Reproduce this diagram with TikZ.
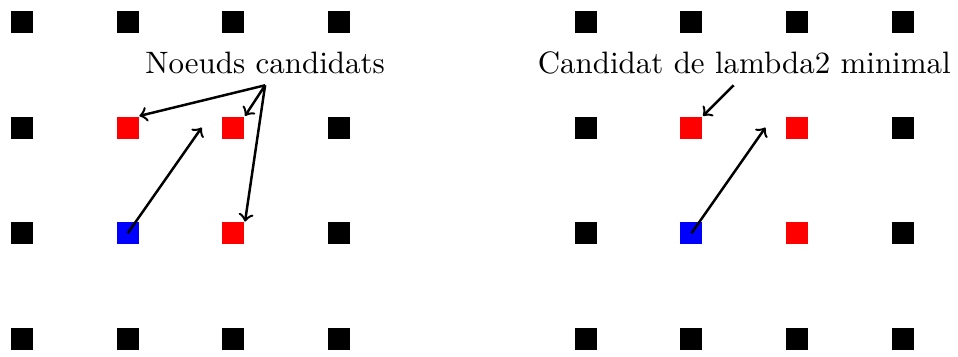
\documentclass[tikz,border=0pt]{standalone}
\usepackage{tikz}
\usetikzlibrary{positioning,calc}

\begin{document}
\begin{tikzpicture}[x=1.2cm,y=1.2cm,
  noeud/.style={rectangle,fill=black,minimum size=0.25cm,inner sep=0pt},
  cand/.style={noeud,fill=red},
  depart/.style={noeud,fill=blue},
  fleche/.style={->,thick}
]
\useasboundingbox (-0.208,-0.161) rectangle (8.855,3.207);
% grille de gauche
\node[noeud] (l00) at (0,0) {}; \node[noeud] (l10) at (1,0) {}; \node[noeud] (l20) at (2,0) {}; \node[noeud] (l30) at (3,0) {};
\node[noeud] (l01) at (0,1) {}; \node[depart] (l11) at (1,1) {}; \node[cand] (l21) at (2,1) {}; \node[noeud] (l31) at (3,1) {};
\node[noeud] (l02) at (0,2) {}; \node[cand] (l12) at (1,2) {}; \node[cand] (l22) at (2,2) {}; \node[noeud] (l32) at (3,2) {};
\node[noeud] (l03) at (0,3) {}; \node[noeud] (l13) at (1,3) {}; \node[noeud] (l23) at (2,3) {}; \node[noeud] (l33) at (3,3) {};
% grille de droite
\node[noeud] (r00) at (5.333,0) {}; \node[noeud] (r10) at (6.333,0) {}; \node[noeud] (r20) at (7.333,0) {}; \node[noeud] (r30) at (8.333,0) {};
\node[noeud] (r01) at (5.333,1) {}; \node[depart] (r11) at (6.333,1) {}; \node[cand] (r21) at (7.333,1) {}; \node[noeud] (r31) at (8.333,1) {};
\node[noeud] (r02) at (5.333,2) {}; \node[cand] (r12) at (6.333,2) {}; \node[cand] (r22) at (7.333,2) {}; \node[noeud] (r32) at (8.333,2) {};
\node[noeud] (r03) at (5.333,3) {}; \node[noeud] (r13) at (6.333,3) {}; \node[noeud] (r23) at (7.333,3) {}; \node[noeud] (r33) at (8.333,3) {};
% textes
\node (txtL) at (2.3,2.615) {Noeuds candidats};
\node (txtR) at (6.833,2.615) {Candidat de lambda2 minimal};
\coordinate (srcL) at (2.3,2.4);
\coordinate (srcR) at (6.733,2.4);
\coordinate (dirL) at ($(l11)+(0.7,1)$);
\coordinate (dirR) at ($(r11)+(0.7,1)$);
% fleches
\draw[fleche] (srcL) -- (l12.north east); \draw[fleche] (srcL) -- (l22.north east); \draw[fleche] (srcL) -- (l21.north east);
\draw[fleche] (l11.center) -- (dirL);
\draw[fleche] (srcR) -- (r12.north east);
\draw[fleche] (r11.center) -- (dirR);
\end{tikzpicture}
\end{document}
